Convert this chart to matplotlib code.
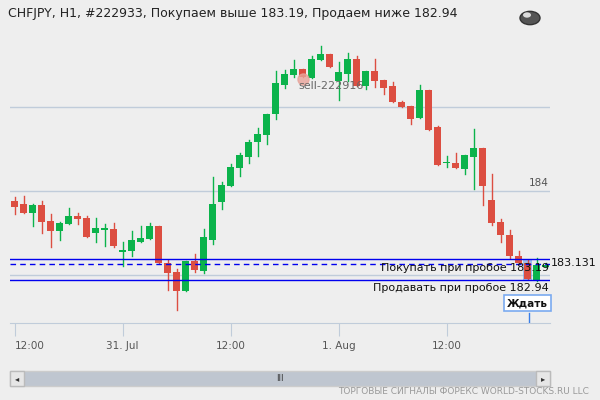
import matplotlib.pyplot as plt
from matplotlib.patches import Rectangle, Circle

# CHFJPY H1 candles (open, high, low, close)
opens = [183.88, 183.85, 183.74, 183.83, 183.64, 183.52, 183.61, 183.70, 183.68, 183.50,
         183.54, 183.55, 183.27, 183.29, 183.40, 183.43, 183.58, 183.15, 183.04, 182.81,
         183.17, 183.05, 183.42, 183.87, 184.06, 184.28, 184.41, 184.58, 184.67, 184.92,
         185.27, 185.38, 185.45, 185.35, 185.56, 185.63, 185.31, 185.40, 185.58, 185.25,
         185.43, 185.33, 185.25, 185.06, 185.01, 184.87, 185.20, 184.76, 184.33, 184.34,
         184.27, 184.41, 184.51, 183.90, 183.63, 183.48, 183.23, 183.15, 182.93, 183.10]
highs = [183.93, 183.94, 183.85, 183.88, 183.73, 183.63, 183.80, 183.74, 183.71, 183.68,
         183.61, 183.62, 183.39, 183.52, 183.58, 183.62, 183.58, 183.18, 183.07, 183.17,
         183.25, 183.55, 184.17, 184.11, 184.32, 184.46, 184.61, 184.75, 184.92, 185.43,
         185.44, 185.56, 185.45, 185.61, 185.73, 185.63, 185.54, 185.65, 185.61, 185.43,
         185.57, 185.33, 185.30, 185.08, 185.01, 185.26, 185.20, 184.78, 184.42, 184.46,
         184.43, 184.74, 184.51, 184.21, 183.67, 183.54, 183.29, 183.18, 183.20, 183.14]
lows = [183.73, 183.74, 183.58, 183.50, 183.33, 183.42, 183.61, 183.61, 183.46, 183.39,
        183.35, 183.33, 183.11, 183.23, 183.40, 183.43, 183.15, 182.82, 182.58, 182.81,
        183.04, 183.03, 183.37, 183.79, 184.06, 184.18, 184.33, 184.42, 184.56, 184.86,
        185.23, 185.36, 185.36, 185.35, 185.56, 185.48, 185.09, 185.31, 185.25, 185.22,
        185.24, 185.16, 185.06, 185.00, 184.80, 184.87, 184.73, 184.31, 184.29, 184.28,
        184.20, 184.03, 183.84, 183.60, 183.40, 183.21, 183.14, 182.95, 182.93, 183.10]
closes = [183.81, 183.74, 183.83, 183.63, 183.52, 183.62, 183.70, 183.67, 183.46, 183.56,
          183.56, 183.35, 183.30, 183.42, 183.44, 183.58, 183.15, 183.03, 182.81, 183.17,
          183.06, 183.45, 183.85, 184.07, 184.29, 184.43, 184.58, 184.68, 184.92, 185.29,
          185.39, 185.45, 185.36, 185.57, 185.63, 185.48, 185.42, 185.58, 185.25, 185.43,
          185.31, 185.23, 185.06, 185.00, 184.86, 185.21, 184.73, 184.31, 184.34, 184.28,
          184.43, 184.52, 184.06, 183.62, 183.48, 183.23, 183.14, 182.95, 183.12, 183.12]

tick_pos = [0, 12, 24, 36, 48]
tick_labels = ['12:00', '31. Jul', '12:00', '1. Aug', '12:00']
grid_levels = [183, 184, 185]
buy_level = 183.19
sell_level = 182.94
last_price = 183.131
sell_idx, sell_price = 32, 185.34

W, H = 600, 400
bg = '#eeeeee'
green, red = '#0bb34b', '#dc4e41'

fig = plt.figure(figsize=(6, 4), dpi=100, facecolor=bg)
ax = fig.add_axes([10 / W, 1 - 323 / H, 540 / W, 293 / H], facecolor=bg)
ax.set_xlim(-0.5, 59.5)
ax.set_ylim(182.43, 185.92)
for s in ['top', 'right', 'left']:
    ax.spines[s].set_visible(False)
ax.spines['bottom'].set_color('#c0ccda')
ax.set_yticks([])
ax.set_xticks(tick_pos)
ax.set_xticklabels(tick_labels, fontsize=7.5, color='#555555')
ax.get_xticklabels()[0].set_horizontalalignment('left')
ax.get_xticklabels()[0].set_x(-0.5)
ax.tick_params(axis='x', length=9, color='#c0ccda', pad=4)

for g in grid_levels:
    ax.axhline(g, color='#c0ccda', lw=1, zorder=0)
ax.text(59.4, 184 + 0.04, '184', ha='right', va='bottom', fontsize=7.5, color='#555555')

for i, (o, h, l, c) in enumerate(zip(opens, highs, lows, closes)):
    col = green if c >= o else red
    ax.plot([i, i], [l, h], color=col, lw=1, zorder=2)
    ax.add_patch(Rectangle((i - 0.38, min(o, c)), 0.76, max(abs(c - o), 0.015),
                           color=col, lw=0, zorder=3))

# highlight of current candle
ax.add_patch(Rectangle((57 - 0.55, sell_level), 1.1, buy_level - sell_level,
                       color='#6a9ce8', alpha=0.6, lw=0, zorder=1))

ax.axhline(buy_level, color='#0000ee', lw=1, zorder=4)
ax.axhline(sell_level, color='#0000ee', lw=1, zorder=4)
ax.axhline(last_price, color='#0000ee', lw=1, ls=(0, (4, 3)), zorder=4)
ax.text(59.4, buy_level - 0.04, 'Покупать при пробое 183.19', ha='right', va='top',
        fontsize=8, color='#111111', zorder=5)
ax.text(59.4, sell_level - 0.03, 'Продавать при пробое 182.94', ha='right', va='top',
        fontsize=8, color='#111111', zorder=5)
ax.text(59.6, last_price + 0.01, '183.131', ha='left', va='center', fontsize=8,
        color='#111111', clip_on=False)

ax.plot([sell_idx], [sell_price], 'o', ms=8, color='#e8a49a', alpha=0.8, zorder=5)
ax.text(sell_idx - 0.4, sell_price - 0.03, 'sell-222916', ha='left', va='top',
        fontsize=8, color='#666666', zorder=5)

# "wait" label
ax.plot([57.2, 57.2], [182.43, 182.55], color='#3a7ee8', lw=1, zorder=5)
ax.text(57.0, 182.665, 'Ждать', ha='center', va='center', fontsize=7.5, fontweight='bold',
        color='#111111', zorder=6,
        bbox=dict(boxstyle='square,pad=0.3', fc='white', ec='#7aaaf0', lw=1.2))

fig.text(8 / W, 1 - 14 / H, 'CHFJPY, H1, #222933, Покупаем выше 183.19, Продаем ниже 182.94',
         fontsize=9, color='#222222', va='center')

# globe icon
fig.patches.append(Circle((530 / W, 1 - 18 / H), 10 / W, transform=fig.transFigure,
                          fc='#555555', ec='#333333'))
fig.patches.append(Circle((527 / W, 1 - 15 / H), 4 / W, transform=fig.transFigure,
                          fc='#dddddd', ec='none'))

# scrollbar
fig.patches.append(Rectangle((10 / W, 1 - 386 / H), 540 / W, 15 / H,
                             transform=fig.transFigure, fc='#bfc6d0', ec='#cccccc'))
for x0 in (10, 536):
    fig.patches.append(Rectangle((x0 / W, 1 - 386 / H), 14 / W, 15 / H,
                                 transform=fig.transFigure, fc='#e6e6e6', ec='#bbbbbb'))
fig.text(17 / W, 1 - 378.5 / H, '◂', fontsize=6, ha='center', va='center', color='#333333')
fig.text(543 / W, 1 - 378.5 / H, '▸', fontsize=6, ha='center', va='center', color='#333333')
fig.text(280 / W, 1 - 378.5 / H, 'III', fontsize=6, ha='center', va='center', color='#333333')

fig.text(589 / W, 1 - 392 / H, 'ТОРГОВЫЕ СИГНАЛЫ ФОРЕКС WORLD-STOCKS.RU LLC',
         fontsize=6.5, ha='right', va='center', color='#999999')

fig.savefig('out.png', dpi=100, facecolor=bg)
